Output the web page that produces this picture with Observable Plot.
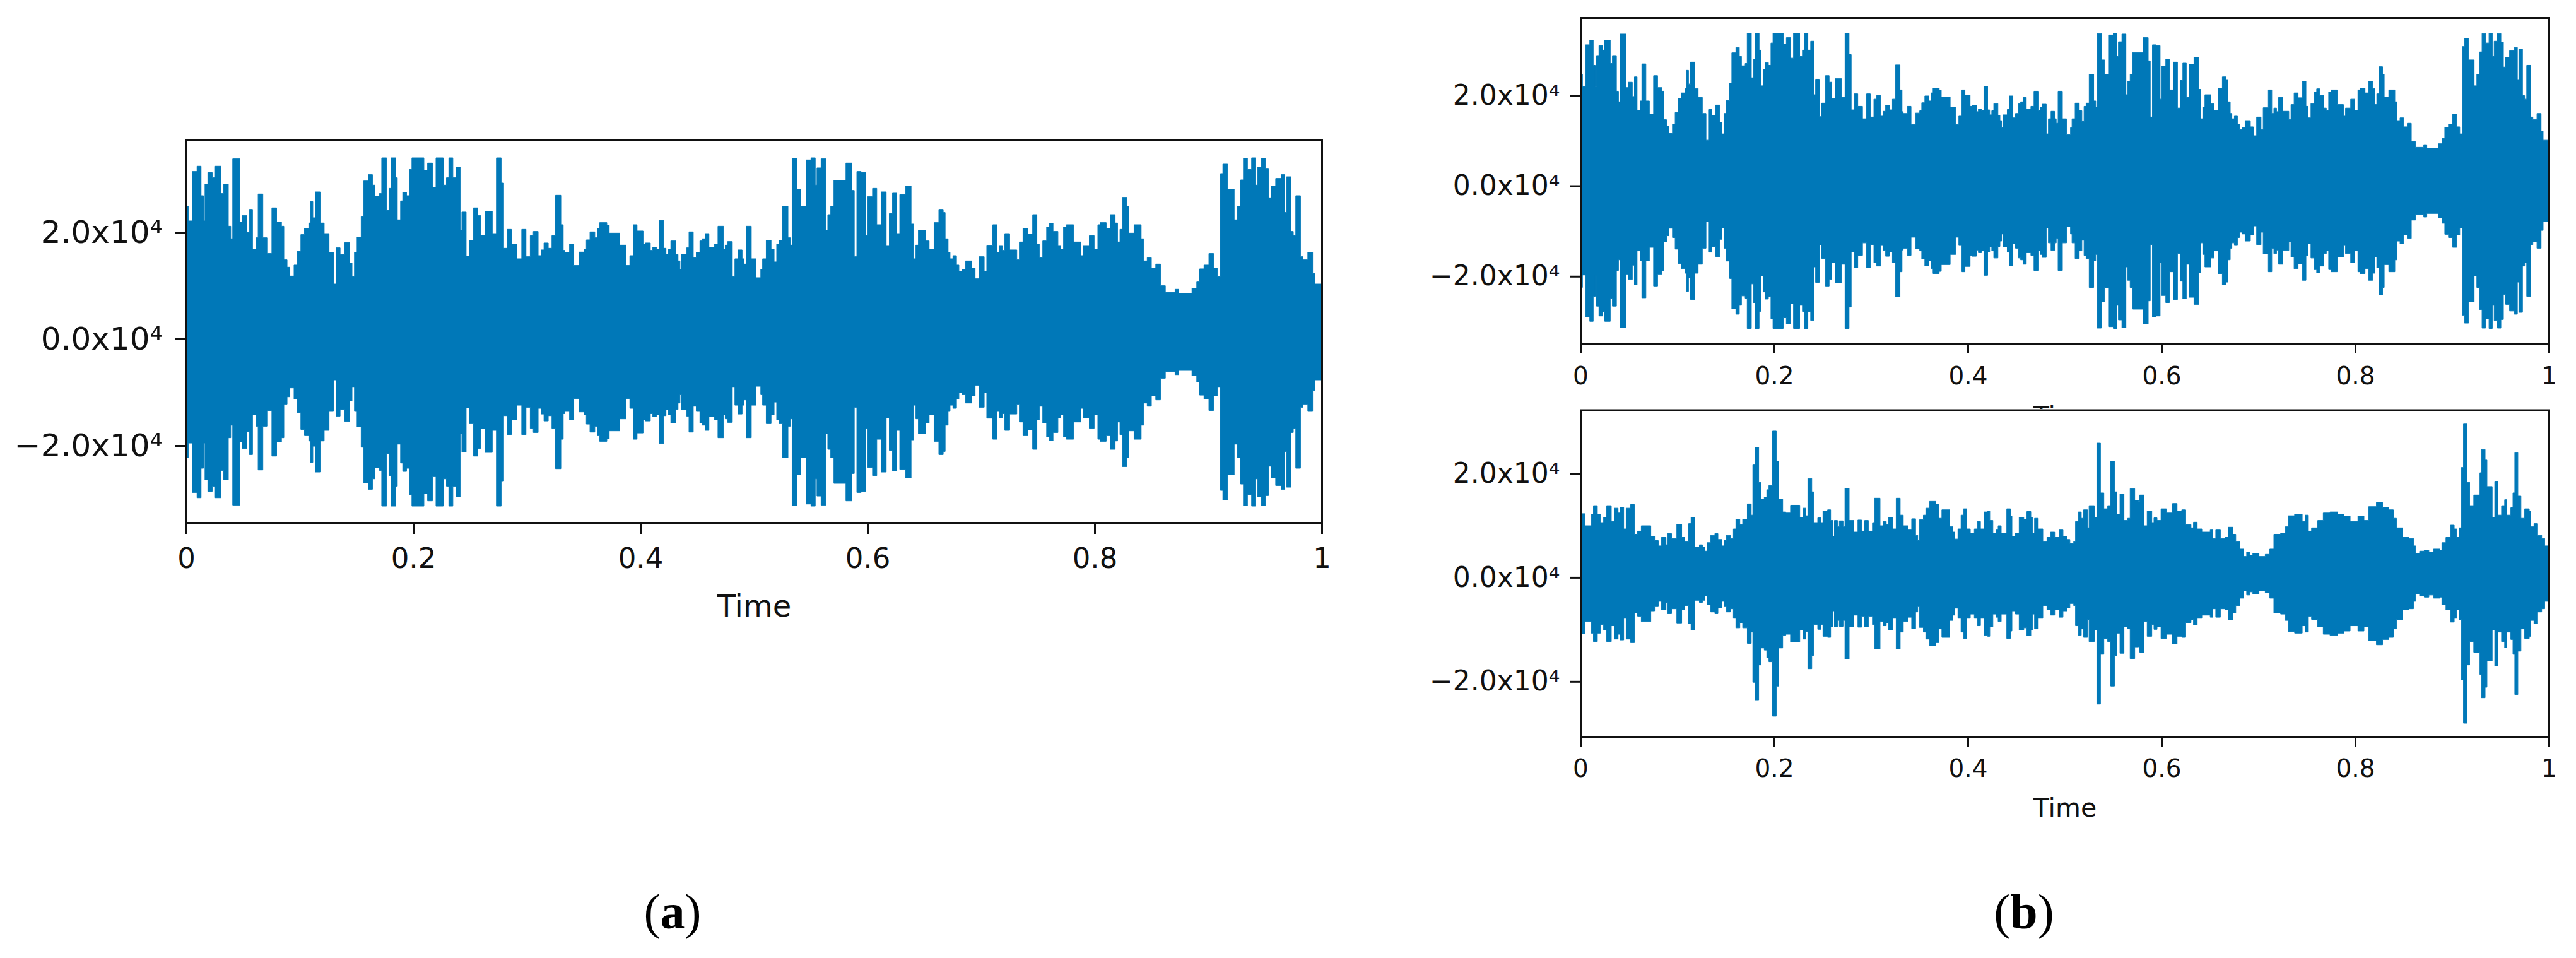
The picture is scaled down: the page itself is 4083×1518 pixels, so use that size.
<!DOCTYPE html>
<html><head><meta charset="utf-8">
<script src="https://cdn.jsdelivr.net/npm/d3@7"></script>
<script src="https://cdn.jsdelivr.net/npm/@observablehq/plot@0.6"></script>
<style>
html,body{margin:0;padding:0;background:#fff;width:4083px;height:1518px;overflow:hidden}
#page{position:relative;width:4083px;height:1518px}
#page svg{position:absolute;display:block}
.cap{position:absolute;font-family:"Liberation Serif";font-size:78px;line-height:1;color:#000;transform:translate(-50%,-50%)}
</style></head><body><div id="page"></div>
<script>
const xTicks = [0, 0.2, 0.4, 0.6, 0.8, 1];
const yTicks = [-20000, 0, 20000];
const xLabel = "Time";

// Speech A: time (normalised) and envelope amplitude
const timeA = [0,.0021,.0053,.0096,.0132,.0153,.0166,.0191,.023,.0251,.0308,.033,.0372,.0393,.041,.0472,.0493,.0536,.0557,.0585,.0617,.0634,.0676,.0712,.0755,.0797,.084,.0861,.0889,.0914,.095,.0978,.101,.1042,.108,.1095,.1116,.1137,.118,.1216,.1259,.1297,.1322,.1356,.1397,.1439,.1461,.1482,.1505,.1541,.1563,.1605,.1641,.1663,.1701,.1722,.1765,.1786,.1803,.1845,.186,.1888,.1907,.1941,.1967,.1988,.2094,.2126,.2169,.22,.2264,.2292,.2313,.2349,.2377,.2413,.2428,.2466,.2492,.253,.2568,.2594,.2632,.2696,.2732,.2774,.2796,.2828,.2864,.2913,.2955,.2993,.303,.3057,.31,.3125,.3151,.3189,.3221,.3253,.33,.3321,
.3333,.3376,.3414,.3461,.3503,.3524,.3556,.3599,.362,.3641,.3705,.3726,.3818,.3875,.3907,.3939,.3971,.4024,.4045,.4088,.4109,.4141,.4166,.4205,.4226,.4247,.4268,.4311,.4332,.4349,.4364,.4407,.4428,.4466,.4492,.4524,.4545,.457,.4604,.4651,.4683,.4732,.4747,.4768,.481,.4832,.4859,.4896,.4913,.4932,.4977,.5019,.506,.5076,.5108,.5151,.5178,.52,.5221,.5253,.53,.5321,.5336,.5378,.5412,.5459,.5502,.554,.5555,.5591,.5633,.565,.5676,.5704,.581,.5863,.5884,.5906,.5944,.5986,.6001,.6044,.6082,.6122,.6165,.6192,.622,.6256,.6284,.6335,.6384,.6405,.6426,.6448,.6511,.6543,.6586,.6628,
.6667,.6684,.671,.6727,.6752,.6784,.6805,.6833,.6863,.6918,.6948,.6982,.7028,.705,.7103,.7139,.716,.7188,.7209,.7252,.7315,.7337,.7369,.7411,.7454,.7492,.7513,.7543,.7577,.7602,.7634,.7677,.7702,.7726,.7751,.7815,.7879,.79,.7953,.7996,.8028,.8049,.8102,.8138,.8181,.8202,.8223,.8245,.8283,.83,.8347,.841,.8432,.8463,.85,.8538,.858,.8623,.8708,.874,.8857,.8899,.8925,.8963,.9006,.9048,.908,.9108,.9129,.9171,.9229,.9256,.9286,.931,.9346,.9382,.9416,.9435,.9469,.9505,.9531,.9554,.9594,.9643,.9675,.969,.9728,.975,.9771,.9813,.9835,.9877,.992,.9941,1];
const ampA = [23590,20830,30100,31090,25560,20830,27730,29900,28920,31090,25960,27730,19840,17480,32470,20630,21820,18660,23000,15500,17670,25880,17670,14720,23280,20630,19840,13530,12150,10490,12550,15110,18270,19450,20440,24460,21420,26270,20440,18460,14910,8990,15780,14520,16770,12940,10380,14910,17750,21620,28320,29510,27540,25450,25960,32660,22800,26940,32660,28920,21030,24580,26160,25560,30490,32660,30300,31680,27140,32660,27540,28920,32660,28920,30890,19050,22490,14200,17200,23280,21820,18150,22600,18460,32660,27930,15700,19250,16490,13730,19250,14120,18070,18860,14320,15390,16690,15700,18070,25640,20120,15310,
14910,16490,12470,14990,15500,17280,18780,17670,19450,20510,20040,18540,16290,12470,14320,20120,18940,16490,16690,15310,15900,15500,20910,15700,14600,15500,17080,14520,13330,11760,14600,15780,18780,13930,14910,17080,17480,18460,15900,16490,19840,15500,16290,16960,10380,13730,15390,13730,12740,19840,13730,10180,11760,13730,17200,15500,13140,16490,17200,23590,17670,16290,32590,26750,23590,32270,32660,27540,30770,32470,19050,22010,23590,28400,31680,26550,14120,30100,29900,18070,25370,26940,20120,26270,16100,22210,26040,18460,25760,27340,20240,13730,16290,19050,17080,15500,20510,23000,
22410,17480,14910,13730,14320,12550,11360,11760,13330,11950,9980,14120,11360,16170,20120,14910,16100,15310,18460,15390,13530,16880,19450,18380,22010,16490,13930,17080,19650,20360,18860,16100,15500,19650,20120,16880,14320,16100,18070,15500,20120,20510,19450,22010,20440,16880,19250,25250,23590,18540,20120,17480,13330,13930,11950,12740,8680,7420,8010,7220,8210,9390,11840,12550,14720,11950,10380,29710,31480,26750,21030,23590,28520,32590,30490,32660,27540,30890,32590,30690,25170,27340,28800,29510,22410,29110,18860,18070,25560,14120,13530,14910,10970,8990,8990];

// Speech B: time (normalised) and envelope amplitude
const timeB = [0,.0048,.0112,.0134,.0175,.0207,.0239,.0271,.0319,.0351,.0389,.0408,.0447,.0472,.0517,.0558,.059,.0628,.0727,.0766,.0804,.0836,.0884,.09,.0941,.0995,.1046,.1078,.1117,.1142,.118,.1228,.126,.1286,.1308,.1346,.1388,.142,.1461,.1483,.1506,.1547,.1579,.1605,.1646,.1675,.1723,.1764,.178,.1802,.1841,.1866,.1898,.1924,.1946,.1984,.2022,.2048,.2089,.2121,.2169,.2265,.2297,.2329,.2348,.2389,.2408,.245,.2482,.2504,.2552,.2584,.2606,.2622,.2654,.2673,.2712,.2731,.2775,.2823,.2865,.2903,.2935,.2973,.3015,.3037,.3094,.3126,.3158,.318,.3222,.326,.3302,.3334,.3381,.342,.3461,.3483,.35,.3541,.3566,.3605,.3669,.37,.3732,.3812,.3844,.3866,.3898,.393,.3956,.3988,.4026,.4067,.4099,.4131,.4169,.4204,.4227,.4259,.4291,.4313,.4345,.4402,.444,.4456,.4492,.453,.4578,.461,.4651,.4667,.4689,.4728,.4775,.4817,.4855,.4897,.4945,.4983,
.4997,.5023,.5054,.5093,.5112,.5141,.5172,.5195,.5236,.5252,.5306,.5332,.537,.5405,.5444,.5476,.5514,.5539,.5571,.5613,.5651,.5676,.5724,.5763,.5775,.582,.5852,.59,.5922,.5954,.5995,.605,.6114,.6161,.6209,.625,.6305,.633,.6369,.6417,.6503,.6528,.656,.6608,.6656,.6688,.6736,.6767,.6809,.6847,.6879,.6911,.6943,.7007,.7071,.7118,.716,.723,.7278,.731,.7374,.7453,.7485,.7517,.7549,.7613,.767,.774,.782,.7884,.7948,.8028,.8091,.8139,.8219,.8283,.8347,.8394,.8426,.849,.8554,.8602,.8624,.8665,.8713,.8761,.8809,.8873,.8895,.8937,.8985,.9023,.9048,.9074,.9096,.9118,.9154,.9182,.9224,.9288,.9304,.9342,.9361,.9415,.9441,.9473,.9511,.9543,.9565,.9607,.9629,.9648,.968,.9712,.975,.9798,.9814,.9846,.9878,.9926,.9957,1];
const ampB = [11520,9200,11440,13070,11440,9810,10830,13070,10020,12580,11650,12750,8590,12580,13270,7570,8180,9200,7170,6350,5330,6960,5540,7700,6760,9490,6960,6150,9610,10830,5130,5540,5130,4320,5950,7370,7700,6560,5330,6350,7370,6760,8590,10420,9410,10420,13400,11240,20890,24270,17550,14290,14700,16130,16940,27400,21620,14290,11850,11650,13150,10830,12580,11120,18280,15720,9810,10710,9810,12050,12260,10220,7170,10220,9000,10140,9000,16410,10220,7980,10300,8180,10220,8180,9810,14500,9200,10020,9410,10830,8590,14500,11240,9200,8390,10550,7370,6350,10340,11240,12580,13890,13270,10630,12260,9000,7980,6640,8590,11240,12460,8590,7780,8590,10020,8590,11850,12050,10220,7780,8390,9200,7780,12460,11040,7170,7780,10830,10420,11930,10830,7780,10630,8590,6150,6960,7980,6960,8390,7170,
7170,6560,5740,6150,10020,11850,10630,12260,8800,13070,10830,25080,15510,12460,13070,21620,15720,11440,15310,10220,10630,16330,14090,13890,15110,9200,12050,9810,10710,10220,12460,11650,13480,12050,12260,9410,8800,9890,8590,7980,8390,6760,8390,6760,6960,8920,7570,6150,4720,3300,4110,3500,3910,3300,3710,4720,7570,7780,9000,11120,11440,10020,11240,8180,8800,10220,11650,11850,11440,11040,10020,11040,10220,12870,13680,12660,12260,10630,8800,6960,6760,5330,3910,4320,4520,4110,4720,4520,5950,6960,9320,8590,6960,8800,20400,28750,17550,13070,15110,19380,23860,21830,16740,10830,17750,11240,13070,14210,11240,12660,15510,23250,14900,10630,12460,12050,9000,9610,7370,6760,5330,5330];

const rowsA = timeA.map((t, i) => ({t, amp: ampA[i]}));
const rowsB = timeB.map((t, i) => ({t, amp: ampB[i]}));
const waveColor = "#0078b8";
const ink = "#111";
const yFmt = d => (d < 0 ? "\u2212" : "") + (Math.abs(d) / 10000).toFixed(1) + "x10\u2074";

function panel({rows, left, top, width, height, mt, mb, ml, mr, yDomain, fsX, fsY, fsL, tickLen, padX, padY, dyY, labelOffset}) {
  const svg = Plot.plot({
    width, height, marginTop: mt, marginBottom: mb, marginLeft: ml, marginRight: mr,
    style: {fontFamily: '"DejaVu Sans"', background: "white", overflow: "visible", color: ink},
    x: {domain: [0, 1], label: xLabel},
    y: {domain: yDomain, label: null},
    marks: [
      Plot.areaY(rows, {x: "t", y1: d => -d.amp, y2: "amp", curve: "step-after", fill: waveColor, stroke: waveColor, strokeWidth: 1}),
      Plot.frame({stroke: ink, strokeWidth: 3}),
      Plot.axisX(xTicks, {tickSize: tickLen, strokeWidth: 3, stroke: ink, tickPadding: padX, fontSize: fsX, tickFormat: d => String(d), label: null}),
      Plot.axisX([], {label: xLabel, labelAnchor: "center", labelArrow: "none", labelOffset, fontSize: fsL, tickSize: 0}),
      Plot.axisY(yTicks, {tickSize: tickLen, strokeWidth: 3, stroke: ink, tickPadding: padY, fontSize: fsY, dy: dyY, tickFormat: yFmt, label: null})
    ]
  });
  svg.style.left = left + "px";
  svg.style.top = top + "px";
  document.getElementById("page").appendChild(svg);
}

panel({rows: rowsA, left: 0, top: 180, width: 2155, height: 820, mt: 42, mb: 172, ml: 295, mr: 60,
  yDomain: [-35740, 35980], fsX: 45, fsY: 50, fsL: 48, tickLen: 18, padX: 22, padY: 20, dyY: 11, labelOffset: 148});
panel({rows: rowsA, left: 2200, top: 0, width: 1883, height: 720, mt: 28, mb: 176, ml: 305, mr: 43,
  yDomain: [-35950, 36100], fsX: 39, fsY: 44, fsL: 41, tickLen: 16, padX: 21, padY: 17, dyY: 8, labelOffset: 128});
panel({rows: rowsB, left: 2200, top: 648, width: 1883, height: 680, mt: 1.5, mb: 161, ml: 305, mr: 43,
  yDomain: [-31300, 31460], fsX: 39, fsY: 44, fsL: 41, tickLen: 16, padX: 20, padY: 17, dyY: 6, labelOffset: 126});

const captions = [{id: "a", x: 1066, y: 1445}, {id: "b", x: 3208, y: 1445}];
for (const c of captions) {
  const el = document.createElement("div");
  el.className = "cap";
  el.style.left = c.x + "px";
  el.style.top = c.y + "px";
  el.innerHTML = "(<b>" + c.id + "</b>)";
  document.getElementById("page").appendChild(el);
}
</script></body></html>
